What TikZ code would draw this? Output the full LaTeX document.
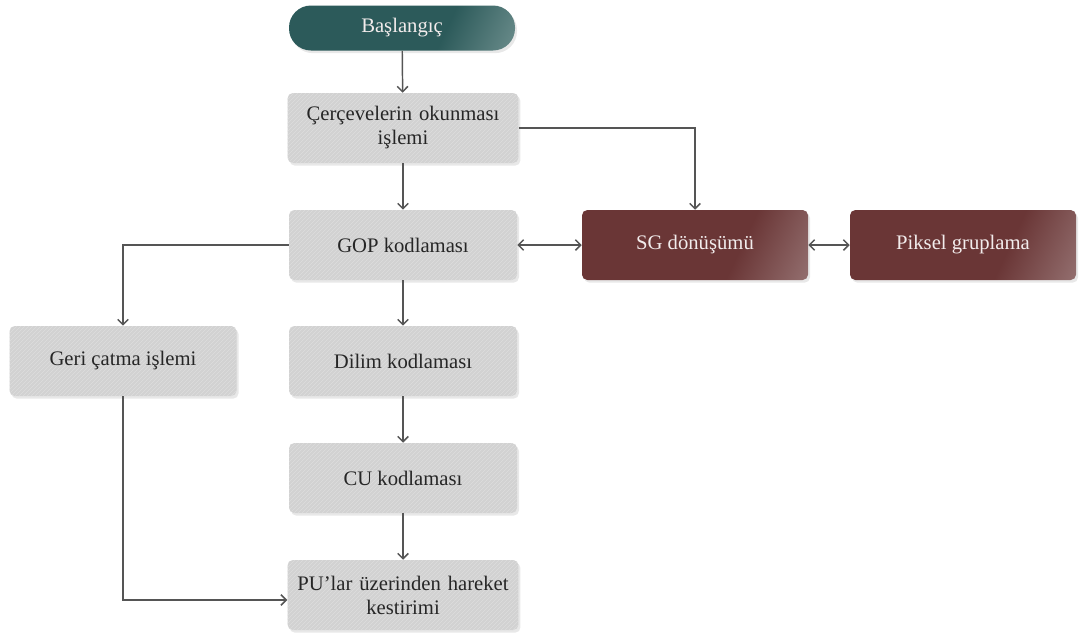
\documentclass[tikz,border=0pt]{standalone}
\usepackage{fontspec}
\setmainfont{Liberation Serif}
\usetikzlibrary{arrows.meta,shadows,patterns,calc}
\definecolor{boxgray}{HTML}{D2D2D2}
\definecolor{hatchgray}{HTML}{DEDEDE}
\definecolor{linegray}{HTML}{555555}
\definecolor{tealdark}{HTML}{2C5A5A}
\definecolor{teallight}{HTML}{9DB5B3}
\definecolor{browndark}{HTML}{6A3636}
\definecolor{brownlight}{HTML}{B49C9C}
\definecolor{lighttext}{HTML}{F2ECEC}
% dark fill that brightens only near one end
\pgfdeclarehorizontalshading{tealshade}{100bp}{color(0bp)=(tealdark); color(62bp)=(tealdark); color(100bp)=(teallight)}
\pgfdeclarehorizontalshading{brownshade}{100bp}{color(0bp)=(browndark); color(62bp)=(browndark); color(100bp)=(brownlight)}
\begin{document}
\begin{tikzpicture}[x=0.75pt,y=-0.75pt,
  every node/.style={font=\fontsize{15.5}{18}\selectfont, align=center},
  graybox/.style={rectangle, rounded corners=4pt, minimum width=228*0.75pt, minimum height=70*0.75pt,
    fill=boxgray, text=black!85,
    drop shadow={opacity=0.18, shadow xshift=1.5pt, shadow yshift=-2pt},
    postaction={pattern=north east lines, pattern color=hatchgray}},
  brownbox/.style={rectangle, rounded corners=4pt, minimum width=226*0.75pt, minimum height=70*0.75pt,
    shading=brownshade, shading angle=-25, text=lighttext,
    drop shadow={opacity=0.18, shadow xshift=1.5pt, shadow yshift=-2pt}},
  startbox/.style={rectangle, rounded corners=22*0.75pt, minimum width=226*0.75pt, minimum height=45*0.75pt,
    shading=tealshade, shading angle=-25, text=lighttext,
    drop shadow={opacity=0.18, shadow xshift=1.5pt, shadow yshift=-2pt}},
  conn/.style={draw=linegray, line width=1.1pt, -{Straight Barb[length=4pt,width=8pt]}},
  biconn/.style={draw=linegray, line width=1.1pt, {Straight Barb[length=4pt,width=8pt]}-{Straight Barb[length=4pt,width=8pt]}}
]
\useasboundingbox[fill=white] (0,0) rectangle (1080,643);

% process nodes
\node[startbox] (start) at (402,28) {Başlangıç};
\node[graybox, text width=222*0.75pt] (read) at (403,128) {Çerçevelerin okunması\\işlemi};
\node[graybox] (gop) at (403,245) {GOP kodlaması};
\node[brownbox] (sg) at (695,245) {SG dönüşümü};
\node[brownbox] (pix) at (963,245) {Piksel gruplama};
\node[graybox, minimum width=227*0.75pt] (geri) at (123,361) {Geri çatma işlemi};
\node[graybox] (dilim) at (403,361) {Dilim kodlaması};
\node[graybox] (cu) at (403,478) {CU kodlaması};
\node[graybox, text width=222*0.75pt] (pu) at (403,595) {PU'lar üzerinden hareket\\kestirimi};

% connectors
\draw[conn] (start) -- (read);
\draw[conn] (read) -- (gop);
\draw[conn] (read.east) -| (sg.north);
\draw[biconn] (gop) -- (sg);
\draw[biconn] (sg) -- (pix);
\draw[conn] (gop.west) -| (geri.north);
\draw[conn] (gop) -- (dilim);
\draw[conn] (dilim) -- (cu);
\draw[conn] (cu) -- (pu);
\draw[conn] (geri.south) |- ($(pu.west)+(0,5)$);
\end{tikzpicture}
\end{document}
